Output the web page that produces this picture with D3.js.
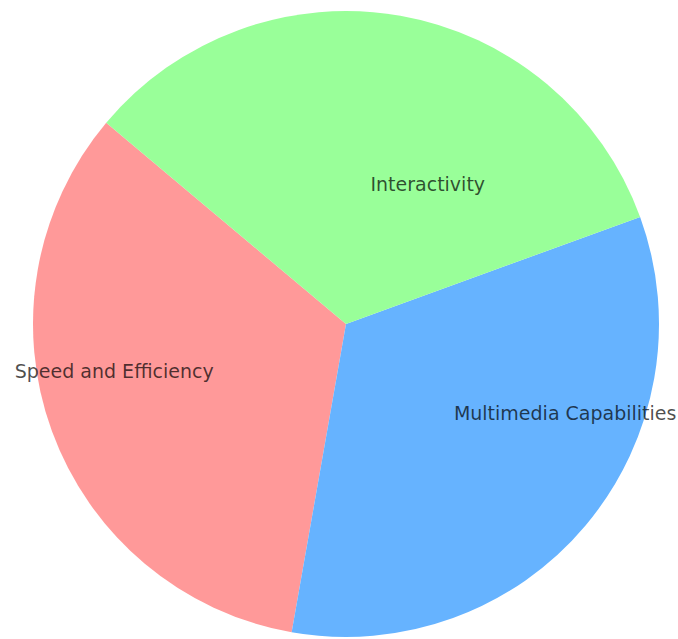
<!DOCTYPE html>
<html>
<head>
<meta charset="utf-8">
<script src="https://cdn.jsdelivr.net/npm/d3@7"></script>
<style>
  body { margin: 0; background: #fff; }
</style>
</head>
<body>
<div id="chart"></div>
<script>

var labels = ["Speed and Efficiency", "Multimedia Capabilities", "Interactivity"];
var values = [33.3, 33.3, 33.3];
var colors = ["#ff9999", "#66b3ff", "#99ff99"];

var width = 678, height = 639;
var cx = 346, cy = 324, radius = 313;

// matplotlib-like: start at 140 deg, go counterclockwise
var start = (90 - 140) * Math.PI / 180;

var svg = d3.select("#chart").append("svg")
    .attr("width", width)
    .attr("height", height);

var g = svg.append("g")
    .attr("transform", "translate(" + cx + "," + cy + ")");

var pie = d3.pie()
    .sort(null)
    .value(function(d) { return d; })
    .startAngle(start)
    .endAngle(start - 2 * Math.PI);

var arcs = pie(values);

var arc = d3.arc()
    .innerRadius(0)
    .outerRadius(radius);

g.selectAll("path.slice")
    .data(arcs)
    .enter().append("path")
    .attr("class", "slice")
    .attr("d", arc)
    .style("fill", function(d, i) { return colors[i]; });

// labels sit at 0.45 of the radius, anchored away from the centre line
var labelDist = radius * 0.45;

g.selectAll("text.label")
    .data(arcs)
    .enter().append("text")
    .attr("class", "label")
    .attr("transform", function(d) {
        var mid = (d.startAngle + d.endAngle) / 2;
        return "translate(" + (Math.sin(mid) * labelDist) + "," + (-Math.cos(mid) * labelDist) + ")";
    })
    .style("text-anchor", function(d) {
        var mid = (d.startAngle + d.endAngle) / 2;
        return Math.sin(mid) > 0 ? "start" : "end";
    })
    .style("dominant-baseline", "middle")
    .style("font-family", "DejaVu Sans, sans-serif")
    .style("font-size", "19px")
    .style("fill", "#000")
    .style("fill-opacity", 0.7)
    .text(function(d, i) { return labels[i]; });

</script>
</body>
</html>
